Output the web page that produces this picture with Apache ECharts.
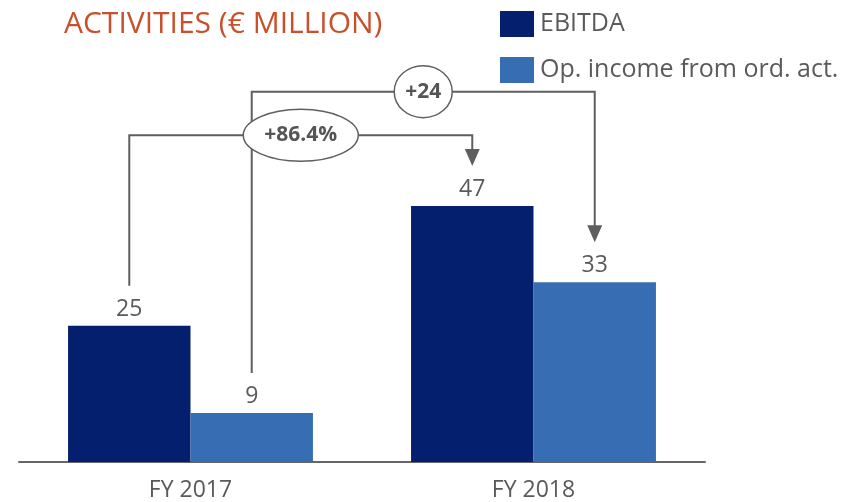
<!DOCTYPE html>
<html>
<head>
<meta charset="utf-8">
<script src="https://cdn.jsdelivr.net/npm/echarts@6/dist/echarts.min.js"></script>
<style>
  html, body { margin: 0; padding: 0; background: #fff; }
  #chart { width: 847px; height: 502px; }
</style>
</head>
<body>
<div id="chart"></div>
<script>
// Activities, € million
const categories = ['FY 2017', 'FY 2018'];
const seriesNames = ['EBITDA', 'Op. income from ord. act.'];
const ebitda = [25, 47];
const opIncome = [9, 33];
// Growth call-outs: which series they connect, the label, and the height (axis units) of the bridge
const growthLabels = ['+86.4%', '+24'];
const growthSeries = [0, 1];
const growthLevels = [60, 68];

const FONT = "'Open Sans', 'DejaVu Sans', sans-serif";
const GREY = '#5a5a5a';
const LINE = '#5f5f5f';

const chart = echarts.init(document.getElementById('chart'), null, { renderer: 'canvas' });

chart.setOption({
  animation: false,
  backgroundColor: '#fff',
  title: {
    text: 'ACTIVITIES (€ MILLION)',
    left: 59, top: 4,
    textStyle: { color: '#C8502A', fontFamily: FONT, fontWeight: 'normal', fontSize: 30 }
  },
  legend: {
    orient: 'vertical',
    left: 495, top: 6,
    itemWidth: 34, itemHeight: 26, itemGap: 20,
    icon: 'rect',
    data: seriesNames,
    textStyle: { color: GREY, fontFamily: FONT, fontSize: 25, padding: [0, 0, 0, 1] }
  },
  grid: { left: 19, right: 142, top: 135.2, bottom: 38, containLabel: false },
  xAxis: {
    type: 'category',
    data: categories,
    axisLine: { lineStyle: { color: '#666', width: 2 } },
    axisTick: { show: false },
    axisLabel: { color: GREY, fontFamily: FONT, fontSize: 23, margin: 17 }
  },
  yAxis: {
    type: 'value', min: 0, max: 60,
    show: false,
    splitLine: { show: false }
  },
  series: [
    {
      name: seriesNames[0], type: 'bar', data: ebitda,
      barGap: '0%', barCategoryGap: '28.6%',
      itemStyle: { color: '#041F6D' },
      label: { show: true, position: 'top', distance: 5, color: GREY, fontFamily: FONT, fontSize: 23 }
    },
    {
      name: seriesNames[1], type: 'bar', data: opIncome,
      barGap: '0%', barCategoryGap: '28.6%',
      itemStyle: { color: '#376DB2' },
      label: { show: true, position: 'top', distance: 5, color: GREY, fontFamily: FONT, fontSize: 23 }
    }
  ]
});

// Bridge arrows between the two years, placed from the bar layouts
function buildBridges() {
  const model = chart.getModel();
  const lines = [], heads = [], badges = [];
  growthLabels.forEach(function (txt, i) {
    const data = model.getSeriesByIndex(growthSeries[i]).getData();
    const a = data.getItemLayout(0);
    const b = data.getItemLayout(1);
    const x0 = a.x + a.width / 2;
    const x1 = b.x + b.width / 2;
    const y0 = a.y + a.height - 40; // bar top minus gap over value label
    const y1 = b.y + b.height - 40;
    const yl = chart.convertToPixel({ yAxisIndex: 0 }, growthLevels[i]);
    lines.push({
      type: 'polyline', z: 10,
      shape: { points: [[x0, y0], [x0, yl], [x1, yl], [x1, y1 - 16]] },
      style: { stroke: LINE, lineWidth: 2, fill: null }
    });
    heads.push({
      type: 'polygon', z: 11,
      shape: { points: [[x1 - 7.5, y1 - 17], [x1 + 7.5, y1 - 17], [x1, y1]] },
      style: { fill: LINE }
    });
    const cx = (x0 + x1) / 2;
    const rx = i === 0 ? 57.5 : 29;
    badges.push({
      type: 'ellipse', z: 20,
      shape: { cx: cx, cy: yl, rx: rx, ry: 26 },
      style: { fill: '#fff', stroke: LINE, lineWidth: 1.5 }
    });
    badges.push({
      type: 'text', z: 21,
      style: {
        text: txt, x: cx, y: yl, align: 'center', verticalAlign: 'middle',
        font: 'bold 21px ' + FONT, fill: '#555'
      }
    });
  });
  chart.setOption({ graphic: lines.concat(heads, badges) });
}
buildBridges();
</script>
</body>
</html>
